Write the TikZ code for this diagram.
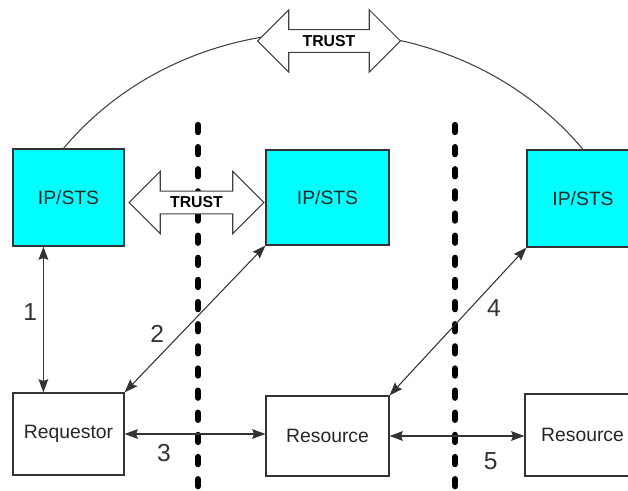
\documentclass[tikz,border=0pt]{standalone}
\usepackage{fontspec}
\setmainfont{Liberation Sans}
\usetikzlibrary{arrows.meta}
\usetikzlibrary{shapes.arrows}
\definecolor{stscyan}{RGB}{0,255,255}

\begin{document}
\begin{tikzpicture}[x=0.02cm, y=0.02cm,
  sts/.style={draw=black!80, line width=0.7pt, fill=stscyan, text=black!85, font=\fontsize{11}{13}\selectfont},
  party/.style={draw=black!80, line width=0.7pt, fill=white, text=black!85, font=\fontsize{11}{13}\selectfont},
  link/.style={draw=black!80, line width=0.6pt, {Stealth[length=7.5pt,width=5.5pt,inset=1pt]}-{Stealth[length=7.5pt,width=5.5pt,inset=1pt]}},
  num/.style={text=black!80, font=\fontsize{14}{16}\selectfont},
  trust/.style={double arrow, draw=black!75, line width=0.6pt, fill=white, inner xsep=2pt, inner ysep=3pt,
    double arrow head extend=11.3pt, double arrow tip angle=90, font=\bfseries\fontsize{9}{10}\selectfont},
  border/.style={line width=3.6pt, line cap=round, dash pattern=on 4pt off 8.6pt}]

\useasboundingbox (0,0) rectangle (628,490);
\clip (0,0) rectangle (628,490);

% trust borders
\draw[border] (198,365) -- (198,0);
\draw[border] (455,365) -- (455,0);

\node[sts, minimum width=2.22cm, minimum height=1.94cm] (ipA) at (68.5,292.5) {IP/STS};
\node[sts, minimum width=2.46cm, minimum height=1.9cm] (ipB) at (327.5,292.5) {IP/STS};
\node[sts, minimum width=2.24cm, minimum height=1.94cm] (ipC) at (583,291.5) {IP/STS};

\node[party, minimum width=2.22cm, minimum height=1.64cm] (req) at (68.5,56) {Requestor};
\node[party, minimum width=2.46cm, minimum height=1.6cm] (resB) at (327.5,54) {Resource};
\node[party, minimum width=2.3cm, minimum height=1.64cm] (resC) at (582.5,55) {Resource};

\draw[black!75, line width=0.6pt] ([xshift=-0.1cm]ipA.north) to[out=50, in=130] (ipC.north);

\node[trust, minimum height=2.86cm] (trustTop) at (329,449) {TRUST};
\node[trust, minimum height=2.7cm] (trustMid) at (196.5,287.5) {TRUST};

\draw[link] ([xshift=0.62cm]ipA.south west) -- node[num, pos=0.45, left=0pt] {1} ([xshift=0.62cm]req.north west);
\draw[link] (req.north east) -- node[num, pos=0.4, left=6pt] {2} (ipB.south west);
\draw[link] (req.east) -- node[num, below=2pt, pos=0.28] {3} (req.east -| resB.west);
\draw[link] (resB.north east) -- node[num, pos=0.59, right=6pt] {4} (ipC.south west);
\draw[link] (resB.east) -- node[num, below=6pt, pos=0.75] {5} (resB.east -| resC.west);

\end{tikzpicture}
\end{document}
